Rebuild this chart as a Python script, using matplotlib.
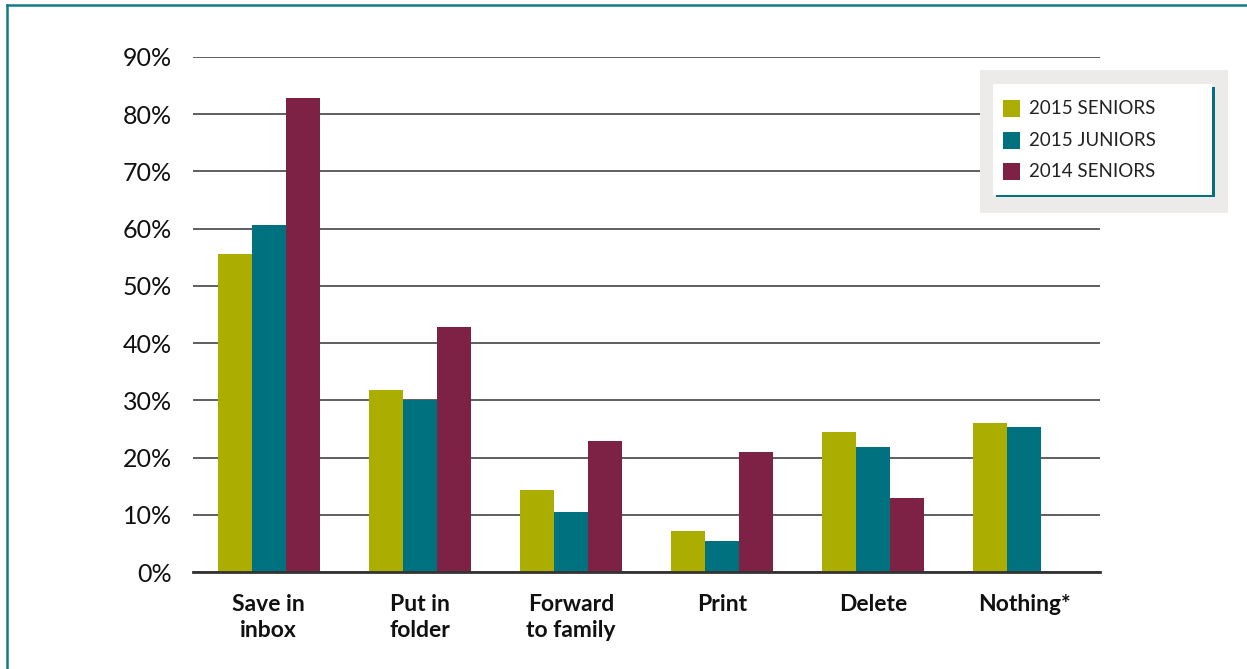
import matplotlib.pyplot as plt
from matplotlib.patches import Rectangle
from matplotlib.lines import Line2D
import numpy as np

plt.rcParams['font.family'] = ['Lato', 'DejaVu Sans']

categories = ["Save in\ninbox", "Put in\nfolder", "Forward\nto family", "Print", "Delete", "Nothing*"]
seniors_2015 = [55.5, 31.8, 14.3, 7.2, 24.4, 26.0]
juniors_2015 = [60.7, 30.1, 10.5, 5.4, 21.8, 25.3]
seniors_2014 = [82.8, 42.9, 22.9, 21.0, 12.9, None]
series_names = ["2015 SENIORS", "2015 JUNIORS", "2014 SENIORS"]
colors = ['#ABAD00', '#00727F', '#7D2145']
yticks = [0, 10, 20, 30, 40, 50, 60, 70, 80, 90]

W, H = 1247, 669
fig = plt.figure(figsize=(W / 100, H / 100), dpi=100)
ax = fig.add_axes([193 / W, 1 - 572 / H, (1100 - 193) / W, (572 - 57) / H])

x = np.arange(len(categories))
bw = 0.225
series = [seniors_2015, juniors_2015, seniors_2014]
for i, (vals, c) in enumerate(zip(series, colors)):
    xs = [xx + (i - 1) * bw for xx, v in zip(x, vals) if v is not None]
    vs = [v for v in vals if v is not None]
    ax.bar(xs, vs, width=bw, color=c, zorder=3)

ax.set_xlim(-0.5, 5.5)
ax.set_ylim(0, 90)
ax.set_yticks(yticks)
ax.set_yticklabels([f"{t}%" for t in yticks], fontsize=18, color='#111111')
ax.yaxis.grid(True, color='#333333', linewidth=1.1, zorder=0)
ax.tick_params(axis='y', length=0, pad=15)
ax.set_xticks(x)
ax.set_xticklabels(categories, fontsize=16.5, fontweight='bold', color='#111111', linespacing=1.3)
ax.tick_params(axis='x', length=0, pad=16)
for s in ['top', 'right', 'left']:
    ax.spines[s].set_visible(False)
ax.spines['bottom'].set_color('#333333')
ax.spines['bottom'].set_linewidth(2)
ax.spines['bottom'].set_zorder(4)


def px(x0, y0, x1, y1):
    # pixel box (top-left origin) -> figure fraction rect
    return (x0 / W, 1 - y1 / H), (x1 - x0) / W, (y1 - y0) / H


# legend box
for (x0, y0, x1, y1, c) in [(980, 70, 1228, 213, '#ECEBE9'),
                            (996, 87, 1215, 197, '#00727F'),
                            (993, 84, 1212, 195, 'white')]:
    xy, w, h = px(x0, y0, x1, y1)
    fig.add_artist(Rectangle(xy, w, h, transform=fig.transFigure, facecolor=c, edgecolor='none', zorder=5))

for i, (name, c) in enumerate(zip(series_names, colors)):
    yc = 108 + 32 * i
    xy, w, h = px(1003, yc - 8.5, 1020, yc + 8.5)
    fig.add_artist(Rectangle(xy, w, h, transform=fig.transFigure, facecolor=c, edgecolor='none', zorder=6))
    fig.text(1029 / W, 1 - yc / H, name, fontsize=13.5, color='#222222', va='center', ha='left', zorder=6)

# teal frame, top and left
fig.add_artist(Line2D([6.5 / W, 1], [1 - 5 / H, 1 - 5 / H], color='#137B86', linewidth=1.8, transform=fig.transFigure))
fig.add_artist(Line2D([6.5 / W, 6.5 / W], [0, 1 - 5 / H], color='#137B86', linewidth=1.8, transform=fig.transFigure))

fig.savefig('out.png', dpi=100)
